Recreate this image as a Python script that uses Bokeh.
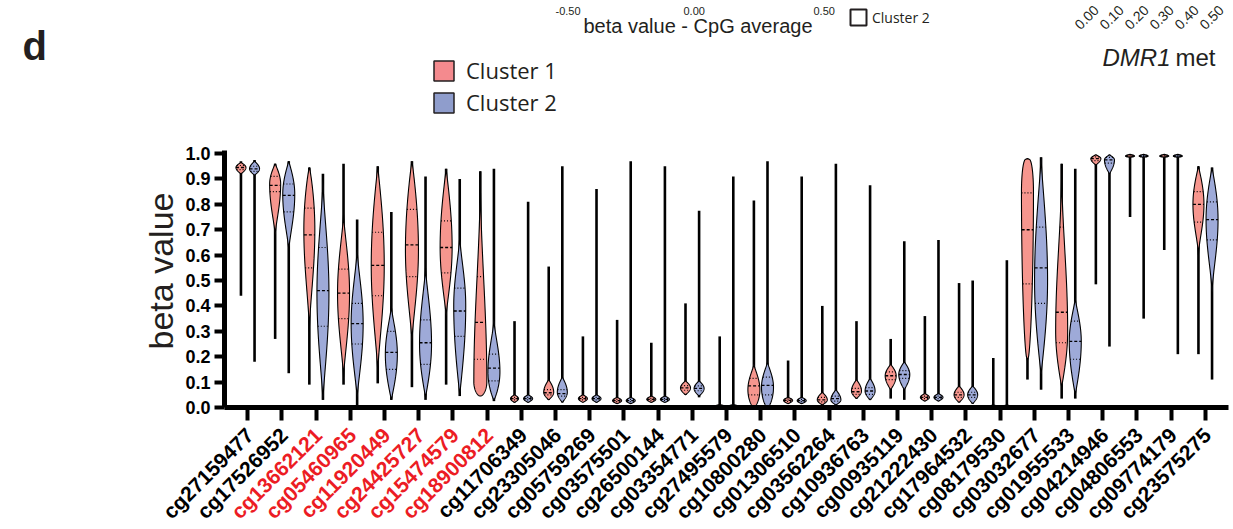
import numpy as np
from bokeh.plotting import figure
from bokeh.models import (Range1d, FixedTicker, ColumnDataSource, LabelSet, Label,
                          Legend, LegendItem)
from bokeh.core.properties import value
from bokeh.embed import file_html
from bokeh.resources import INLINE

# ---------------- data ----------------
names = ["cg27159477", "cg17526952", "cg13662121", "cg05460965", "cg11920449",
         "cg24425727", "cg15474579", "cg18900812", "cg11706349", "cg23305046",
         "cg05759269", "cg03575501", "cg26500144", "cg03354771", "cg27495579",
         "cg10800280", "cg01306510", "cg03562264", "cg10936763", "cg00935119",
         "cg21222430", "cg17964532", "cg08179530", "cg03032677", "cg01955533",
         "cg04214946", "cg04806553", "cg09774179", "cg23575275"]
red_names = ["cg13662121", "cg05460965", "cg11920449", "cg24425727",
             "cg15474579", "cg18900812"]

y_ticks = [0.0, 0.1, 0.2, 0.3, 0.4, 0.5, 0.6, 0.7, 0.8, 0.9, 1.0]
y_tick_labels = ["0.0", "0.1", "0.2", "0.3", "0.4", "0.5", "0.6", "0.7", "0.8", "0.9", "1.0"]

# Cluster 1
c1_min = [0.44, 0.27, 0.09, 0.09, 0.095, 0.08, 0.09, 0.045, 0.02, 0.03, 0.025, 0.015, 0.02, 0.05,
          0.0, 0.0, 0.015, 0.01, 0.035, 0.035, 0.025, 0.02, 0.0, 0.11, 0.035, 0.485, 0.75, 0.62, 0.21]
c1_max = [0.97, 0.96, 0.945, 0.96, 0.95, 0.97, 0.94, 0.93, 0.34, 0.555, 0.28, 0.345, 0.255, 0.41,
          0.28, 0.815, 0.185, 0.40, 0.34, 0.27, 0.36, 0.49, 0.195, 0.98, 0.96, 0.995, 0.997, 0.997, 0.95]
c1_lo = [0.92, 0.68, 0.30, 0.12, 0.14, 0.26, 0.36, 0.045, 0.02, 0.03, 0.02, 0.015, 0.02, 0.05,
         0.0, 0.0, 0.015, 0.01, 0.035, 0.07, 0.025, 0.02, 0.0, 0.185, 0.08, 0.955, 0.985, 0.985, 0.60]
c1_hi = [0.965, 0.96, 0.945, 0.76, 0.95, 0.97, 0.94, 0.93, 0.05, 0.11, 0.05, 0.04, 0.045, 0.105,
         0.012, 0.17, 0.04, 0.06, 0.11, 0.17, 0.055, 0.085, 0.01, 0.98, 0.96, 0.995, 0.997, 0.997, 0.95]
c1_pk = [0.945, 0.88, 0.70, 0.45, 0.56, 0.62, 0.63, 0.10, 0.035, 0.06, 0.035, 0.027, 0.032, 0.077,
         0.004, 0.07, 0.028, 0.03, 0.065, 0.125, 0.04, 0.05, 0.004, 0.85, 0.30, 0.98, 0.99, 0.99, 0.80]
c1_hw = [5, 5.5, 5.5, 6, 6.5, 6.5, 6, 6.5, 4, 5, 4.5, 4.5, 4.5, 5,
         5, 6, 4.5, 5, 5, 5.5, 4.5, 5, 4.5, 6, 6, 5, 4.5, 4.5, 5.5]
c1_q1 = [0.937, 0.85, 0.55, 0.35, 0.44, 0.515, 0.53, 0.19, 0.03, 0.05, 0.03, 0.023, 0.028, 0.068,
         0.002, 0.05, 0.024, 0.022, 0.052, 0.11, 0.035, 0.04, 0.002, 0.487, 0.255, 0.972, 0.988, 0.988, 0.73]
c1_med = [0.945, 0.875, 0.68, 0.45, 0.56, 0.64, 0.63, 0.335, 0.035, 0.058, 0.035, 0.027, 0.032, 0.077,
          0.004, 0.085, 0.028, 0.03, 0.062, 0.125, 0.04, 0.05, 0.004, 0.70, 0.375, 0.98, 0.99, 0.99, 0.80]
c1_q3 = [0.953, 0.91, 0.785, 0.545, 0.69, 0.78, 0.735, 0.515, 0.04, 0.07, 0.04, 0.032, 0.036, 0.086,
         0.007, 0.115, 0.033, 0.04, 0.075, 0.14, 0.045, 0.06, 0.007, 0.845, 0.71, 0.987, 0.993, 0.993, 0.85]
c1_elo = [1, 1.3, 1.5, 1.3, 1.3, 1.3, 1.2, 0.5, 1, 1, 1, 1, 1, 1,
          1, 0.6, 1, 1, 1, 1, 1, 1, 1, 0.5, 1, 1, 1, 1, 1.5]
c1_ehi = [1, 1, 0.8, 1.3, 1, 0.9, 1, 2, 1, 1, 1, 1, 1, 1,
          1, 1.2, 1, 1, 1, 1, 1, 1, 1, 0.3, 2, 1, 1, 1, 1]

# Cluster 2
c2_min = [0.18, 0.135, 0.03, 0.0, 0.03, 0.03, 0.045, 0.025, 0.02, 0.02, 0.02, 0.015, 0.02, 0.04,
          0.0, 0.0, 0.015, 0.01, 0.03, 0.03, 0.025, 0.015, 0.0, 0.07, 0.035, 0.24, 0.35, 0.21, 0.11]
c2_max = [0.975, 0.97, 0.92, 0.74, 0.77, 0.91, 0.90, 0.94, 0.81, 0.95, 0.86, 0.97, 0.95, 0.775,
          0.91, 0.97, 0.91, 0.96, 0.875, 0.655, 0.66, 0.50, 0.58, 0.985, 0.94, 0.995, 0.997, 0.997, 0.945]
c2_lo = [0.915, 0.62, 0.03, 0.04, 0.03, 0.04, 0.05, 0.03, 0.02, 0.02, 0.02, 0.015, 0.02, 0.045,
         0.0, 0.0, 0.015, 0.01, 0.03, 0.07, 0.025, 0.015, 0.0, 0.13, 0.05, 0.92, 0.985, 0.985, 0.45]
c2_hi = [0.97, 0.97, 0.90, 0.63, 0.40, 0.55, 0.68, 0.35, 0.05, 0.12, 0.05, 0.04, 0.045, 0.105,
         0.012, 0.18, 0.04, 0.07, 0.115, 0.18, 0.055, 0.085, 0.01, 0.985, 0.43, 0.995, 0.997, 0.997, 0.945]
c2_pk = [0.94, 0.84, 0.45, 0.33, 0.21, 0.25, 0.40, 0.14, 0.035, 0.06, 0.035, 0.027, 0.032, 0.075,
         0.004, 0.08, 0.027, 0.03, 0.065, 0.13, 0.04, 0.05, 0.004, 0.50, 0.26, 0.975, 0.99, 0.99, 0.74]
c2_hw = [5, 6, 6, 6, 6, 6, 6, 6, 4.5, 5, 4.5, 4.5, 4.5, 5,
         5, 6, 4.5, 5, 5, 5.5, 4.5, 5, 4.5, 6.5, 6, 5, 4.5, 4.5, 6]
c2_q1 = [0.93, 0.77, 0.32, 0.25, 0.15, 0.17, 0.28, 0.105, 0.03, 0.045, 0.03, 0.023, 0.028, 0.066,
         0.002, 0.05, 0.023, 0.025, 0.052, 0.115, 0.035, 0.04, 0.002, 0.41, 0.19, 0.962, 0.988, 0.988, 0.66]
c2_med = [0.94, 0.835, 0.46, 0.33, 0.217, 0.255, 0.38, 0.155, 0.035, 0.055, 0.035, 0.027, 0.032, 0.075,
          0.004, 0.087, 0.027, 0.035, 0.065, 0.13, 0.04, 0.05, 0.004, 0.55, 0.26, 0.975, 0.99, 0.99, 0.74]
c2_q3 = [0.95, 0.88, 0.63, 0.41, 0.30, 0.345, 0.47, 0.21, 0.04, 0.07, 0.04, 0.032, 0.036, 0.085,
         0.007, 0.12, 0.032, 0.045, 0.078, 0.145, 0.045, 0.06, 0.007, 0.71, 0.34, 0.985, 0.993, 0.993, 0.81]
c2_elo = [1, 1.3, 1.2, 1.2, 1, 1, 1, 0.8, 1, 1, 1, 1, 1, 1,
          1, 0.6, 1, 1, 1, 1, 1, 1, 1, 1, 1, 1, 1, 1, 1.5]
c2_ehi = [1, 1, 1.5, 1.5, 1.3, 1.3, 1.5, 1.5, 1, 1, 1, 1, 1, 1,
          1, 1.2, 1, 1, 1, 1, 1, 1, 1, 1.2, 1.2, 1, 1, 1, 1]

# ---------------- figure ----------------
W, H = 1233, 529
FL, FR, FT, FB = 224, 1228, 150, 407          # plot-area edges in pixels
X0, X1 = -0.68, 28.68                          # data range of plot area
Y0, Y1 = 0.0, 1.012
PXU = (FR - FL) / (X1 - X0)                    # pixels per category unit
PYU = (FB - FT) / (Y1 - Y0)

# the frame covers the whole canvas so that texts in the margins stay visible
XS0, XS1 = X0 - FL / PXU, X1 + (W - FR) / PXU
YS0, YS1 = Y0 - (H - FB) / PYU, Y1 + FT / PYU


def X(px):
    return XS0 + px / PXU


def Y(py):
    return YS1 - py / PYU


p = figure(width=W, height=H, output_backend="svg", toolbar_location=None,
           x_range=Range1d(XS0, XS1), y_range=Range1d(YS0, YS1),
           min_border=0, min_border_left=0, min_border_right=0,
           min_border_top=0, min_border_bottom=0)
p.outline_line_color = None
p.xgrid.visible = False
p.ygrid.visible = False
p.background_fill_color = "white"
p.border_fill_color = "white"

PINK, BLUE = "#f6968e", "#9eaad8"
LEG_PINK, LEG_BLUE = "#f48a8e", "#8f9dcc"
OFF = 6.8 / PXU


def prof(lo, hi, pk, el, eh, y):
    y = np.asarray(y, dtype=float)
    w = np.zeros_like(y)
    a = y <= pk
    if pk > lo:
        w[a] = np.sin(np.pi / 2 * np.clip((y[a] - lo) / (pk - lo), 0, 1)) ** el
    b = ~a
    if hi > pk:
        w[b] = np.sin(np.pi / 2 * np.clip((hi - y[b]) / (hi - pk), 0, 1)) ** eh
    return w


def build(sign, mn, mx, lo, hi, pk, hw, q1, med, q3, elo, ehi, color):
    xs, ys = [], []
    wx, wy0, wy1 = [], [], []
    mx0, mx1, my = [], [], []
    qx0, qx1, qy = [], [], []
    for i in range(len(names)):
        c = i + sign * OFF
        h = hw[i] / PXU
        yy = np.concatenate([np.linspace(lo[i], pk[i], 40), np.linspace(pk[i], hi[i], 40)[1:]])
        ww = h * prof(lo[i], hi[i], pk[i], elo[i], ehi[i], yy)
        xs.append(list(np.concatenate([c - ww, (c + ww)[::-1]])))
        ys.append(list(np.concatenate([yy, yy[::-1]])))
        wx.append(c); wy0.append(mn[i]); wy1.append(mx[i])
        wm = h * prof(lo[i], hi[i], pk[i], elo[i], ehi[i], [med[i]])[0]
        mx0.append(c - wm); mx1.append(c + wm); my.append(med[i])
        for q in (q1[i], q3[i]):
            wq = h * prof(lo[i], hi[i], pk[i], elo[i], ehi[i], [q])[0]
            qx0.append(c - wq); qx1.append(c + wq); qy.append(q)
    p.segment(x0=wx, y0=wy0, x1=wx, y1=wy1, line_color="black", line_width=2.6)
    p.patches(xs=xs, ys=ys, fill_color=color, line_color="black", line_width=1.1)
    p.segment(x0=mx0, y0=my, x1=mx1, y1=my, line_color="black", line_width=1.3, line_dash="3 2")
    p.segment(x0=qx0, y0=qy, x1=qx1, y1=qy, line_color="black", line_width=1.2, line_dash="1 2")


build(-1, c1_min, c1_max, c1_lo, c1_hi, c1_pk, c1_hw, c1_q1, c1_med, c1_q3, c1_elo, c1_ehi, PINK)
build(+1, c2_min, c2_max, c2_lo, c2_hi, c2_pk, c2_hw, c2_q1, c2_med, c2_q3, c2_elo, c2_ehi, BLUE)

# ---------------- axes (fixed at the plot-area edges) ----------------
yax = p.yaxis[0]
yax.fixed_location = X0
yax.bounds = (Y0, Y1)
yax.ticker = FixedTicker(ticks=y_ticks)
yax.major_label_overrides = {t: s for t, s in zip(y_ticks, y_tick_labels)}
yax.axis_line_width = 5
yax.major_tick_line_width = 4
yax.major_tick_out = 10
yax.major_tick_in = 0
yax.minor_tick_line_color = None
yax.major_label_text_font = "Liberation Sans"
yax.major_label_text_font_style = "bold"
yax.major_label_text_font_size = "18px"
yax.major_label_text_color = "black"
yax.major_label_standoff = 4

xax = p.xaxis[0]
xax.fixed_location = Y0
xax.bounds = (X0, X1)
xax.ticker = FixedTicker(ticks=list(range(len(names))))
xax.major_label_overrides = {i: "" for i in range(len(names))}
xax.axis_line_width = 5
xax.major_tick_line_width = 4
xax.major_tick_out = 13
xax.major_tick_in = 0
xax.minor_tick_line_color = None

# category labels (coloured individually)
lab_src = ColumnDataSource(dict(
    x=list(range(len(names))),
    y=[Y(431)] * len(names),
    text=names,
    color=["#ec1c24" if n in red_names else "black" for n in names],
))
p.add_layout(LabelSet(x="x", y="y", text="text", source=lab_src, angle=np.pi / 4,
                      text_align="right", text_baseline="middle", text_color="color",
                      text_font=value("Liberation Sans"), text_font_style="bold",
                      text_font_size="21px", x_offset=2))


def txt(s, px, py, size, style="normal", align="left", baseline="alphabetic", angle=0.0,
        font="Liberation Sans", color="#231f20"):
    p.add_layout(Label(x=X(px), y=Y(py), text=s, text_font=font, text_font_size=size,
                       text_font_style=style, text_align=align, text_baseline=baseline,
                       angle=angle, text_color=color))


# y-axis title
txt("beta value", 160, (FT + FB) / 2 - 8, "34px", align="center", baseline="middle",
    angle=np.pi / 2)

# ---------------- legend ----------------
def swatch(fill, lw):
    return p.patches(xs="xs", ys="ys", source=ColumnDataSource(dict(xs=[[]], ys=[[]])),
                     fill_color=fill, line_color="#231f20", line_width=lw)


e1 = swatch(LEG_PINK, 1.5)
e2 = swatch(LEG_BLUE, 1.5)
leg = Legend(items=[LegendItem(label="Cluster 1", renderers=[e1]),
                    LegendItem(label="Cluster 2", renderers=[e2])],
             location=(431, H - 117), orientation="vertical",
             glyph_width=25, glyph_height=25, label_standoff=10, spacing=2,
             padding=0, margin=0, border_line_color=None, background_fill_alpha=0,
             label_text_font="Open Sans", label_text_font_size="22px",
             label_text_color="#231f20", label_height=25)
p.add_layout(leg)

# cropped neighbouring panels (top)
e3 = swatch("white", 2)
leg2 = Legend(items=[LegendItem(label="Cluster 2", renderers=[e3])],
              location=(848, H - 27), glyph_width=20, glyph_height=20,
              label_standoff=4, padding=0, margin=0, border_line_color=None,
              background_fill_alpha=0, label_text_font="Open Sans",
              label_text_font_size="14px", label_text_color="#231f20", label_height=20)
p.add_layout(leg2)

txt("d", 22, 45, "40px", style="bold")
txt("-0.50", 555, 10, "11px")
txt("0.00", 683, 10, "11px")
txt("0.50", 813, 10, "11px")
txt("beta value - CpG average", 583, 25, "20px")
for k, s in enumerate(["0.00", "0.10", "0.20", "0.30", "0.40", "0.50"]):
    txt(s, 1080 + 25 * k, 30, "14px", baseline="bottom", angle=np.pi / 4)
txt("DMR1", 1102, 57, "24px", style="italic")
txt("met", 1175, 57, "24px")

open("out.html", "w").write(file_html(p, INLINE))
